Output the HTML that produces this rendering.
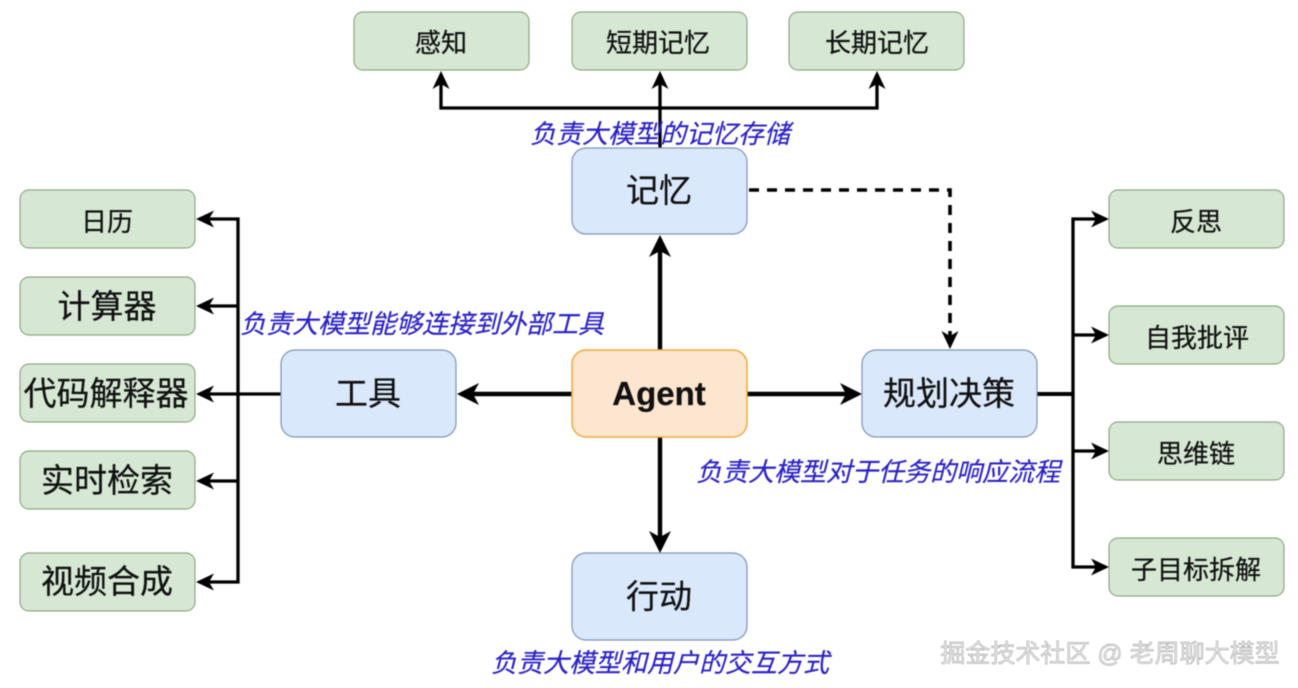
<!DOCTYPE html>
<html>
<head>
<meta charset="utf-8">
<style>
html,body{margin:0;padding:0;background:#fff;width:1298px;height:688px;overflow:hidden}
svg{display:block;filter:blur(0.4px)}
text{font-family:"Liberation Sans","Noto Sans CJK SC",sans-serif;text-anchor:middle;fill:#111;stroke:#111;stroke-width:0.25}
.g{fill:#d6e8d4;stroke:#8fa882;stroke-width:1.2}
.b{fill:#dae8fb;stroke:#7f95b3;stroke-width:1.2}
.o{fill:#fde6cf;stroke:#eeaa3c;stroke-width:1.5}
.l{fill:none;stroke:#000;stroke-width:3.3}
.k{fill:none;stroke:#000;stroke-width:4.4}
.s{font-size:26px}
.m{font-size:33px}
text.i{font-size:26px;font-style:italic;fill:#2b22c6;stroke:#2b22c6;stroke-width:0.2}
</style>
</head>
<body>
<svg width="1298" height="688" viewBox="0 0 1298 688" xmlns="http://www.w3.org/2000/svg">
<defs>
<marker id="a" markerUnits="userSpaceOnUse" markerWidth="24" markerHeight="24" refX="15" refY="12" orient="auto" viewBox="0 0 24 24">
<path d="M18,12 L0,3.500 L5,12 L0,20.500 Z" fill="#000"/>
</marker>
<marker id="c" markerUnits="userSpaceOnUse" markerWidth="30" markerHeight="30" refX="18" refY="15" orient="auto" viewBox="0 0 30 30">
<path d="M22,15 L0,4 L6,15 L0,26 Z" fill="#000"/>
</marker>
</defs>

<!-- connectors -->
<path class="l" d="M660,148V74" marker-end="url(#a)"/>
<path class="l" d="M660,108H441V74" marker-end="url(#a)"/>
<path class="l" d="M660,108H877V74" marker-end="url(#a)"/>
<path class="k" d="M660,350V239" marker-end="url(#c)"/>
<path class="k" d="M660,437V549" marker-end="url(#c)"/>
<path class="k" d="M572,394H461" marker-end="url(#c)"/>
<path class="k" d="M747,394H858" marker-end="url(#c)"/>

<path class="l" d="M281,394H199" marker-end="url(#a)"/>
<path class="l" d="M238,394V219H199" marker-end="url(#a)"/>
<path class="l" d="M238,306H199" marker-end="url(#a)"/>
<path class="l" d="M238,481H199" marker-end="url(#a)"/>
<path class="l" d="M238,394V582H199" marker-end="url(#a)"/>

<path class="k" d="M1037,394H1073" style="stroke-width:4"/>
<path class="l" d="M1073,394V219H1106" marker-end="url(#a)"/>
<path class="l" d="M1073,335H1106" marker-end="url(#a)"/>
<path class="l" d="M1073,451H1106" marker-end="url(#a)"/>
<path class="l" d="M1073,394V567H1106" marker-end="url(#a)"/>

<path class="l" d="M749,190H950V346" stroke-dasharray="10 8" style="stroke-width:3.6" marker-end="url(#a)"/>

<!-- top boxes -->
<rect class="g" x="354" y="12" width="175" height="58" rx="9"/>
<rect class="g" x="572" y="12" width="175" height="58" rx="9"/>
<rect class="g" x="789" y="12" width="175" height="58" rx="9"/>
<text class="s" x="441" y="52">感知</text>
<text class="s" x="658" y="52">短期记忆</text>
<text class="s" x="877" y="52">长期记忆</text>

<!-- left boxes -->
<rect class="g" x="20" y="190" width="175" height="58" rx="9"/>
<rect class="g" x="20" y="277" width="175" height="58" rx="9"/>
<rect class="g" x="20" y="364" width="175" height="58" rx="9"/>
<rect class="g" x="20" y="451" width="175" height="58" rx="9"/>
<rect class="g" x="20" y="553" width="175" height="58" rx="9"/>
<text class="s" x="107" y="231">日历</text>
<text class="m" x="107" y="318">计算器</text>
<text class="m" x="106" y="405">代码解释器</text>
<text class="m" x="107" y="492">实时检索</text>
<text class="m" x="107" y="593">视频合成</text>

<!-- right boxes -->
<rect class="g" x="1109" y="190" width="175" height="58" rx="9"/>
<rect class="g" x="1109" y="306" width="175" height="58" rx="9"/>
<rect class="g" x="1109" y="422" width="175" height="58" rx="9"/>
<rect class="g" x="1109" y="538" width="175" height="58" rx="9"/>
<text class="s" x="1196" y="231">反思</text>
<text class="s" x="1197" y="347">自我批评</text>
<text class="s" x="1196" y="463">思维链</text>
<text class="s" x="1196" y="579">子目标拆解</text>

<!-- core boxes -->
<rect class="b" x="572" y="148" width="175" height="86" rx="14"/>
<rect class="b" x="281" y="350" width="175" height="87" rx="14"/>
<rect class="o" x="572" y="350" width="175" height="87" rx="14"/>
<rect class="b" x="862" y="350" width="175" height="87" rx="14"/>
<rect class="b" x="572" y="553" width="175" height="87" rx="14"/>
<text class="m" x="659" y="202">记忆</text>
<text class="m" x="368" y="405">工具</text>
<text x="659" y="405" style="font-size:33px;font-weight:bold">Agent</text>
<text class="m" x="949" y="405">规划决策</text>
<text class="m" x="659" y="608">行动</text>

<!-- italic labels -->
<text class="i" x="660" y="143">负责大模型的记忆存储</text>
<text class="i" x="422" y="333">负责大模型能够连接到外部工具</text>
<text class="i" x="878" y="481">负责大模型对于任务的响应流程</text>
<text class="i" x="660" y="672">负责大模型和用户的交互方式</text>

<!-- watermark -->
<text x="1110" y="662" style="font-size:25px;fill:#e8e8e8;stroke:#8f8f8f;stroke-width:0.4">掘金技术社区 @ 老周聊大模型</text>
</svg>
</body>
</html>
